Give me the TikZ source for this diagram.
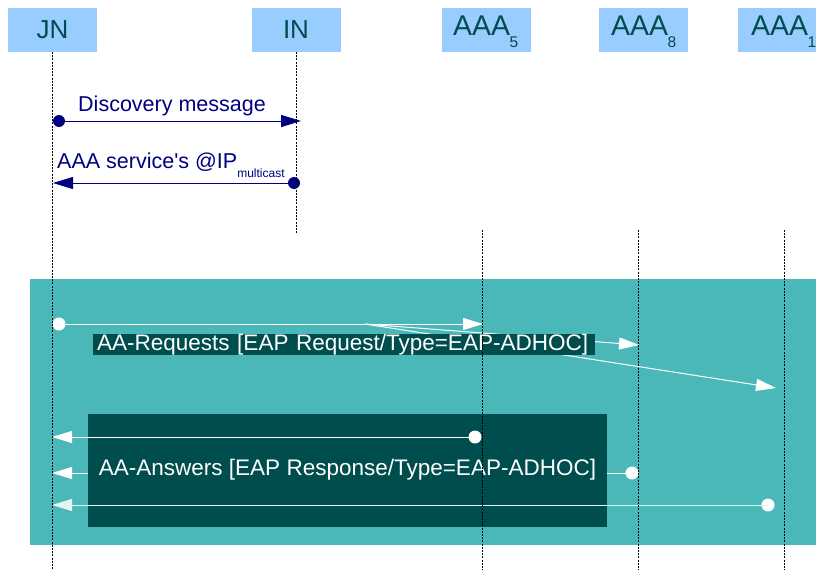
\documentclass[tikz,border=0pt]{standalone}
\usepackage{fontspec}
\setmainfont{Liberation Sans}[Ligatures=TeXOff]
\usetikzlibrary{arrows.meta}
\definecolor{hdr}{HTML}{99CCFF}
\definecolor{hdrtext}{HTML}{004D4D}
\definecolor{zone}{HTML}{4AB8B8}
\definecolor{darkt}{HTML}{004D4D}
\definecolor{navy1}{HTML}{000080}
\tikzset{
  hdrbox/.style={fill=hdr, text=hdrtext, minimum width=89pt, minimum height=44pt, inner sep=0pt, font=\fontsize{26}{26}\selectfont},
  hdrtxt/.style={text=hdrtext, inner sep=0pt, font=\fontsize{28.5}{28.5}\selectfont},
  life/.style={draw=black, line width=0.6pt, dash pattern=on 2pt off 1.2pt},
  navydot/.style={circle, fill=navy1, minimum size=12pt, inner sep=0pt},
  whitedot/.style={circle, fill=white, minimum size=13pt, inner sep=0pt},
  navymsg/.style={draw=navy1, line width=1pt, -{Triangle[length=20pt,width=12pt]}, shorten <=-1pt},
  whitemsg/.style={draw=white, line width=1pt, -{Triangle[length=20pt,width=12pt]}},
  navylabel/.style={text=navy1, font=\fontsize{21.5}{21.5}\selectfont, inner sep=0pt},
  darklabel/.style={fill=darkt, text=white, font=\fontsize{22.5}{22.5}\selectfont},
}
\newcommand{\hsub}[1]{\hspace{-0.5pt}\raisebox{-12pt}{\fontsize{15.5}{15.5}\selectfont #1}}
\begin{document}
\begin{tikzpicture}[x=1pt,y=-1pt]
\useasboundingbox (0,0) rectangle (816,570);
\clip (0,0) rectangle (816,570);
% headers
\node[hdrbox] (jn) at (52.5,30) {JN};
\node[hdrbox] (in) at (296,30) {IN};
\node[hdrbox] (a5) at (486,30) {};
\node[hdrbox] (a8) at (643.5,30) {};
\node[hdrbox, anchor=west] (a1) at (738,30) {};
\node[hdrtxt, anchor=base west] (a5t) at (453,35.5) {AAA\hsub{5}};
\node[hdrtxt, anchor=base west] (a8t) at (611,35.5) {AAA\hsub{8}};
\node[hdrtxt, anchor=base west] (a1t) at (751,35.5) {AAA\hsub{1}};
% lifeline coordinates
\coordinate (jnT) at (52,52);   \coordinate (jnB) at (52,570);
\coordinate (inT) at (296,52);  \coordinate (inB) at (296,233);
\coordinate (a5T) at (482,230); \coordinate (a5B) at (482,570);
\coordinate (a8T) at (638,230); \coordinate (a8B) at (638,570);
\coordinate (a1T) at (784,230); \coordinate (a1B) at (784,570);
% discovery phase
\node[navydot] (d1) at (59,121) {};
\coordinate (d1e) at (301,121);
\draw[navymsg] (d1.center) -- (d1e);
\node[navylabel] (d1l) at (172,106) {Discovery message};
\node[navydot] (d2) at (294,183) {};
\coordinate (d2e) at (53,183);
\draw[navymsg] (d2.center) -- (d2e);
\node[navylabel, anchor=base west] (d2l) at (57,168) {AAA service's @IP\raisebox{-9pt}{\fontsize{12}{12}\selectfont multicast}};
% zone
\node[fill=zone, minimum width=786pt, minimum height=266pt, inner sep=0pt, anchor=north west] (zn) at (30,279) {};
% requests
\node[whitedot] (r0) at (59,324) {};
\coordinate (r5) at (483,324);
\coordinate (fan) at (365,324);
\coordinate (r8) at (639,345);
\coordinate (r1) at (776,388);
\draw[whitemsg] (r0.center) -- (r5);
\draw[whitemsg] (fan) -- (r8);
\draw[whitemsg] (fan) -- (r1);
\node[darklabel, anchor=west, inner xsep=4pt, inner ysep=0pt, text width=494pt, minimum height=21pt, align=left] (rl) at (93,344.5) {AA-Requests [EAP Request/Type=EAP-ADHOC]};
% answers
\node[fill=darkt, minimum width=519pt, minimum height=113pt, inner sep=0pt, anchor=north west] (ab) at (88,414) {};
\node[whitedot] (s5) at (475,437) {};
\node[whitedot] (s8) at (632,473) {};
\node[whitedot] (s1) at (768,505) {};
\coordinate (j1) at (52,437);
\coordinate (j2) at (52,473);
\coordinate (j3) at (52,505);
\draw[whitemsg] (s5.center) -- (j1);
\draw[whitemsg] (s8.center) -- (j2);
\draw[whitemsg, draw=white!85!zone] (s1.center) -- (j3);
\node[darklabel, minimum width=519pt, minimum height=34pt, inner sep=0pt] (al) at (347.5,470) {AA-Answers [EAP Response/Type=EAP-ADHOC]};
% lifelines
\draw[life] (jnT) -- (jnB);
\draw[life] (inT) -- (inB);
\draw[life] (a5T) -- (a5B);
\draw[life] (a8T) -- (a8B);
\draw[life] (a1T) -- (a1B);
\end{tikzpicture}
\end{document}
